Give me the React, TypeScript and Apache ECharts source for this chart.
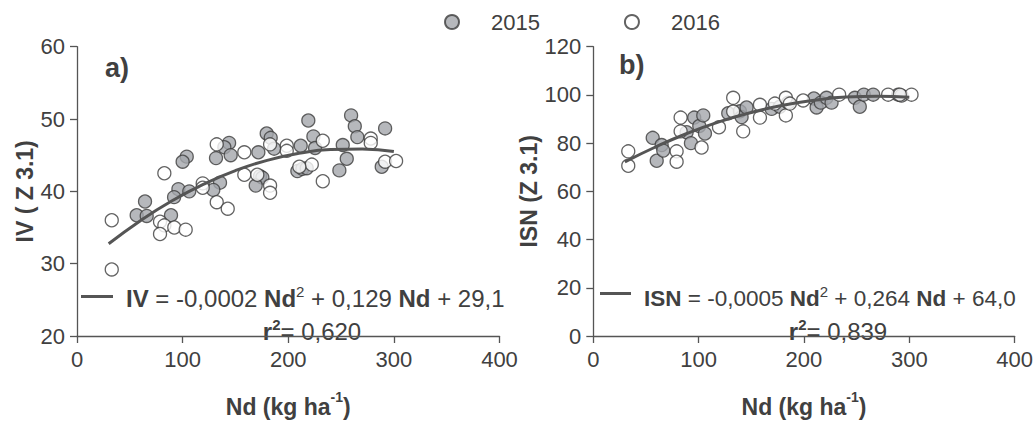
import React, { useEffect, useRef } from "react";
import * as echarts from "echarts";

// ---- Data ----
// Panel a) IV (Z 3.1) vs Nd
const ivX2015 = [219, 259.5, 263, 265.4, 291.7, 179.6, 183.4, 223.8, 144, 139.5, 145.5, 131.6, 103.9, 100, 171.7, 186.6, 211.8, 225.4, 251.6, 255.4, 248.4, 288.5, 208.6, 213.4, 217.5, 173.3, 175.5, 169.2, 135.4, 129, 96, 106.3, 91.9, 64.4, 56.5, 66, 89];
const ivY2015 = [49.8, 50.5, 49.0, 47.5, 48.7, 48.0, 47.4, 47.6, 46.7, 46.1, 45.0, 44.6, 44.8, 44.1, 45.4, 45.9, 46.3, 46.0, 46.4, 44.5, 42.9, 43.4, 42.8, 43.1, 43.2, 42.1, 41.9, 40.8, 41.2, 40.2, 40.3, 40.0, 39.2, 38.6, 36.7, 36.6, 36.7];
const ivX2016 = [82.7, 132.3, 158.4, 158.4, 170.7, 182.8, 198.6, 198.6, 232.7, 278.1, 278.1, 291.7, 302.1, 222.3, 210.5, 232.7, 182.8, 182.8, 119, 119, 132.3, 142.7, 32.9, 32.9, 78.6, 82.7, 78.6, 92.1, 102.9];
const ivY2016 = [42.5, 46.5, 45.4, 42.3, 42.3, 46.5, 46.3, 45.6, 47.0, 47.3, 46.7, 44.1, 44.2, 43.7, 43.4, 41.4, 40.8, 39.8, 41.1, 40.5, 38.5, 37.6, 36.0, 29.2, 35.8, 35.3, 34.1, 35.0, 34.7];
const ivFitX = [30, 60, 90, 120, 150, 180, 210, 240, 270, 300];
const ivFitY = [32.75, 35.95, 38.7, 41.0, 42.87, 44.29, 45.25, 45.78, 45.85, 45.5];

// Panel b) ISN (Z 3.1) vs Nd
const isnX2015 = [56.4, 60.2, 64.9, 66.4, 88.6, 92.7, 95.8, 100.6, 104.4, 106, 128.1, 139.2, 140.8, 145.5, 169.3, 177.1, 185, 209.4, 212, 216, 221.4, 226.2, 248.3, 253, 256.8, 265.7, 289.4, 292.6];
const isnY2015 = [82.2, 72.7, 79.2, 76.9, 84.5, 80.0, 90.6, 87.1, 91.5, 84.0, 92.4, 93.2, 90.8, 94.8, 94.2, 95.1, 96.8, 98.5, 94.8, 96.8, 98.8, 96.8, 98.8, 95.1, 100.1, 100.1, 100.1, 99.7];
const isnX2016 = [33.2, 33.2, 82.9, 82.9, 79.1, 79.1, 102.8, 119.3, 132.8, 132.8, 142.3, 158.2, 158.2, 172.4, 182.8, 182.8, 199.2, 233.4, 279.9, 302.1, 291, 186.6];
const isnY2016 = [76.6, 70.6, 90.6, 84.9, 76.6, 72.3, 78.2, 86.6, 98.8, 93.1, 84.9, 95.9, 90.6, 96.4, 98.8, 91.5, 97.7, 100.1, 100.1, 100.1, 100.1, 96.4];
const isnFitX = [30, 60, 90, 120, 150, 180, 210, 240, 270, 300];
const isnFitY = [72.2, 78.6, 84.2, 88.9, 92.7, 95.7, 97.8, 99.1, 99.4, 99.0];

const xTicks = [0, 100, 200, 300, 400];
const ivTicks = [20, 30, 40, 50, 60];
const isnTicks = [0, 20, 40, 60, 80, 100, 120];
const years = ["2015", "2016"];

const zip = (xs: number[], ys: number[]) => xs.map((x, i) => [x, ys[i]]);

const TXT = "#404040";
const AX = "#555555";
const FONT = "Liberation Sans, Arial, sans-serif";

const makeRich = (size: number) => ({
  n: { fontSize: size, fontFamily: FONT, fill: TXT, lineHeight: 26, verticalAlign: "bottom" },
  b: { fontSize: size, fontFamily: FONT, fill: TXT, fontWeight: "bold", lineHeight: 26, verticalAlign: "bottom" },
  s: { fontSize: 15, fontFamily: FONT, fill: TXT, lineHeight: 26, verticalAlign: "top" },
  bs: { fontSize: 15, fontFamily: FONT, fill: TXT, fontWeight: "bold", lineHeight: 26, verticalAlign: "top" },
});

export default function App() {
  const ref = useRef<HTMLDivElement>(null);
  useEffect(() => {
    if (!ref.current) return;
    const chart = echarts.init(ref.current, undefined, { renderer: "svg" });

    const xAxisBase = (gridIndex: number) => ({
      type: "value",
      gridIndex,
      min: xTicks[0],
      max: xTicks[xTicks.length - 1],
      interval: 100,
      splitLine: { show: false },
      axisLine: { show: true, lineStyle: { color: AX, width: 1.3 } },
      axisTick: { show: true, length: 7, lineStyle: { color: AX, width: 1.3 } },
      axisLabel: { color: TXT, fontSize: 22, fontFamily: FONT, margin: 12 },
      name: "{b|Nd (kg ha}{s|-1}{b|)}",
      nameLocation: "middle",
      nameGap: 54,
      nameTextStyle: {
        rich: {
          b: { fontSize: 23, fontWeight: "bold", color: TXT, fontFamily: FONT, lineHeight: 28, verticalAlign: "bottom" },
          s: { fontSize: 14, fontWeight: "bold", color: TXT, fontFamily: FONT, lineHeight: 28, verticalAlign: "top" },
        },
      },
    });

    const yAxisBase = (gridIndex: number, ticks: number[], name: string, gap: number) => ({
      type: "value",
      gridIndex,
      min: ticks[0],
      max: ticks[ticks.length - 1],
      interval: ticks[1] - ticks[0],
      splitLine: { show: false },
      axisLine: { show: true, lineStyle: { color: AX, width: 1.3 } },
      axisTick: { show: true, length: 7, lineStyle: { color: AX, width: 1.3 } },
      axisLabel: { color: TXT, fontSize: 22, fontFamily: FONT, margin: 12 },
      name,
      nameLocation: "middle",
      nameGap: gap,
      nameTextStyle: { fontSize: 23, fontWeight: "bold", color: TXT, fontFamily: FONT },
    });

    const filled = { color: "#a4a6ab", borderColor: "#3c3c3c", borderWidth: 1.3 };
    const open = { color: "#ffffff", borderColor: "#3c3c3c", borderWidth: 1.3 };

    const scatter = (name: string, xi: number, data: number[][], style: any) => ({
      type: "scatter",
      name,
      xAxisIndex: xi,
      yAxisIndex: xi,
      symbol: "circle",
      symbolSize: 13,
      itemStyle: style,
      data,
      z: 2,
    });

    const fit = (xi: number, data: number[][]) => ({
      type: "line",
      name: "fit" + xi,
      xAxisIndex: xi,
      yAxisIndex: xi,
      smooth: true,
      showSymbol: false,
      symbol: "none",
      lineStyle: { color: "#555555", width: 3 },
      data,
      z: 5,
    });

    const richL = makeRich(24);
    const richR = makeRich(22.5);

    const option: any = {
      animation: false,
      backgroundColor: "#ffffff",
      textStyle: { fontFamily: FONT },
      legend: {
        data: years,
        left: 439,
        top: 6,
        icon: "circle",
        itemWidth: 14,
        itemHeight: 14,
        itemGap: 84,
        textStyle: { color: TXT, fontSize: 22, fontFamily: FONT, padding: [0, 0, 0, 27] },
      },
      grid: [
        { left: 77, top: 46.7, width: 422.5, height: 301.6, containLabel: false },
        { left: 593.3, top: 46.7, width: 421.7, height: 301.6, containLabel: false },
      ],
      xAxis: [xAxisBase(0), xAxisBase(1)],
      yAxis: [
        yAxisBase(0, ivTicks, "IV ( Z 3.1)", 41),
        yAxisBase(1, isnTicks, "ISN (Z 3.1)", 53),
      ],
      series: [
        scatter(years[0], 0, zip(ivX2015, ivY2015), filled),
        scatter(years[1], 0, zip(ivX2016, ivY2016), open),
        fit(0, zip(ivFitX, ivFitY)),
        scatter(years[0], 1, zip(isnX2015, isnY2015), filled),
        scatter(years[1], 1, zip(isnX2016, isnY2016), open),
        fit(1, zip(isnFitX, isnFitY)),
      ],
      graphic: [
        { type: "text", x: 105, y: 68, style: { text: "a)", fontSize: 27, fontWeight: "bold", fontFamily: FONT, fill: TXT, verticalAlign: "middle" } },
        { type: "text", x: 619, y: 65, style: { text: "b)", fontSize: 27, fontWeight: "bold", fontFamily: FONT, fill: TXT, verticalAlign: "middle" } },
        { type: "line", shape: { x1: 81, y1: 296.5, x2: 113, y2: 296.5 }, style: { stroke: "#555555", lineWidth: 3 } },
        {
          type: "text", x: 126, y: 297,
          style: { text: "{b|IV}{n| = -0,0002 }{b|Nd}{s|2}{n| + 0,129 }{b|Nd}{n| + 29,1}", rich: richL, verticalAlign: "middle" },
        },
        {
          type: "text", x: 312, y: 330,
          style: { text: "{b|r}{bs|2}{n|= 0,620}", rich: richL, align: "center", verticalAlign: "middle" },
        },
        { type: "line", shape: { x1: 600, y1: 293.5, x2: 631, y2: 293.5 }, style: { stroke: "#555555", lineWidth: 3 } },
        {
          type: "text", x: 644, y: 297,
          style: { text: "{b|ISN}{n| = -0,0005 }{b|Nd}{s|2}{n| + 0,264 }{b|Nd}{n| + 64,0}", rich: richR, verticalAlign: "middle" },
        },
        {
          type: "text", x: 838, y: 330,
          style: { text: "{b|r}{bs|2}{n|= 0,839}", rich: richL, align: "center", verticalAlign: "middle" },
        },
      ],
    };
    chart.setOption(option);
    return () => chart.dispose();
  }, []);
  return (
    <div
      ref={ref}
      style={{ position: "fixed", left: 0, top: 0, width: 1036, height: 423, background: "#fff" }}
    />
  );
}
